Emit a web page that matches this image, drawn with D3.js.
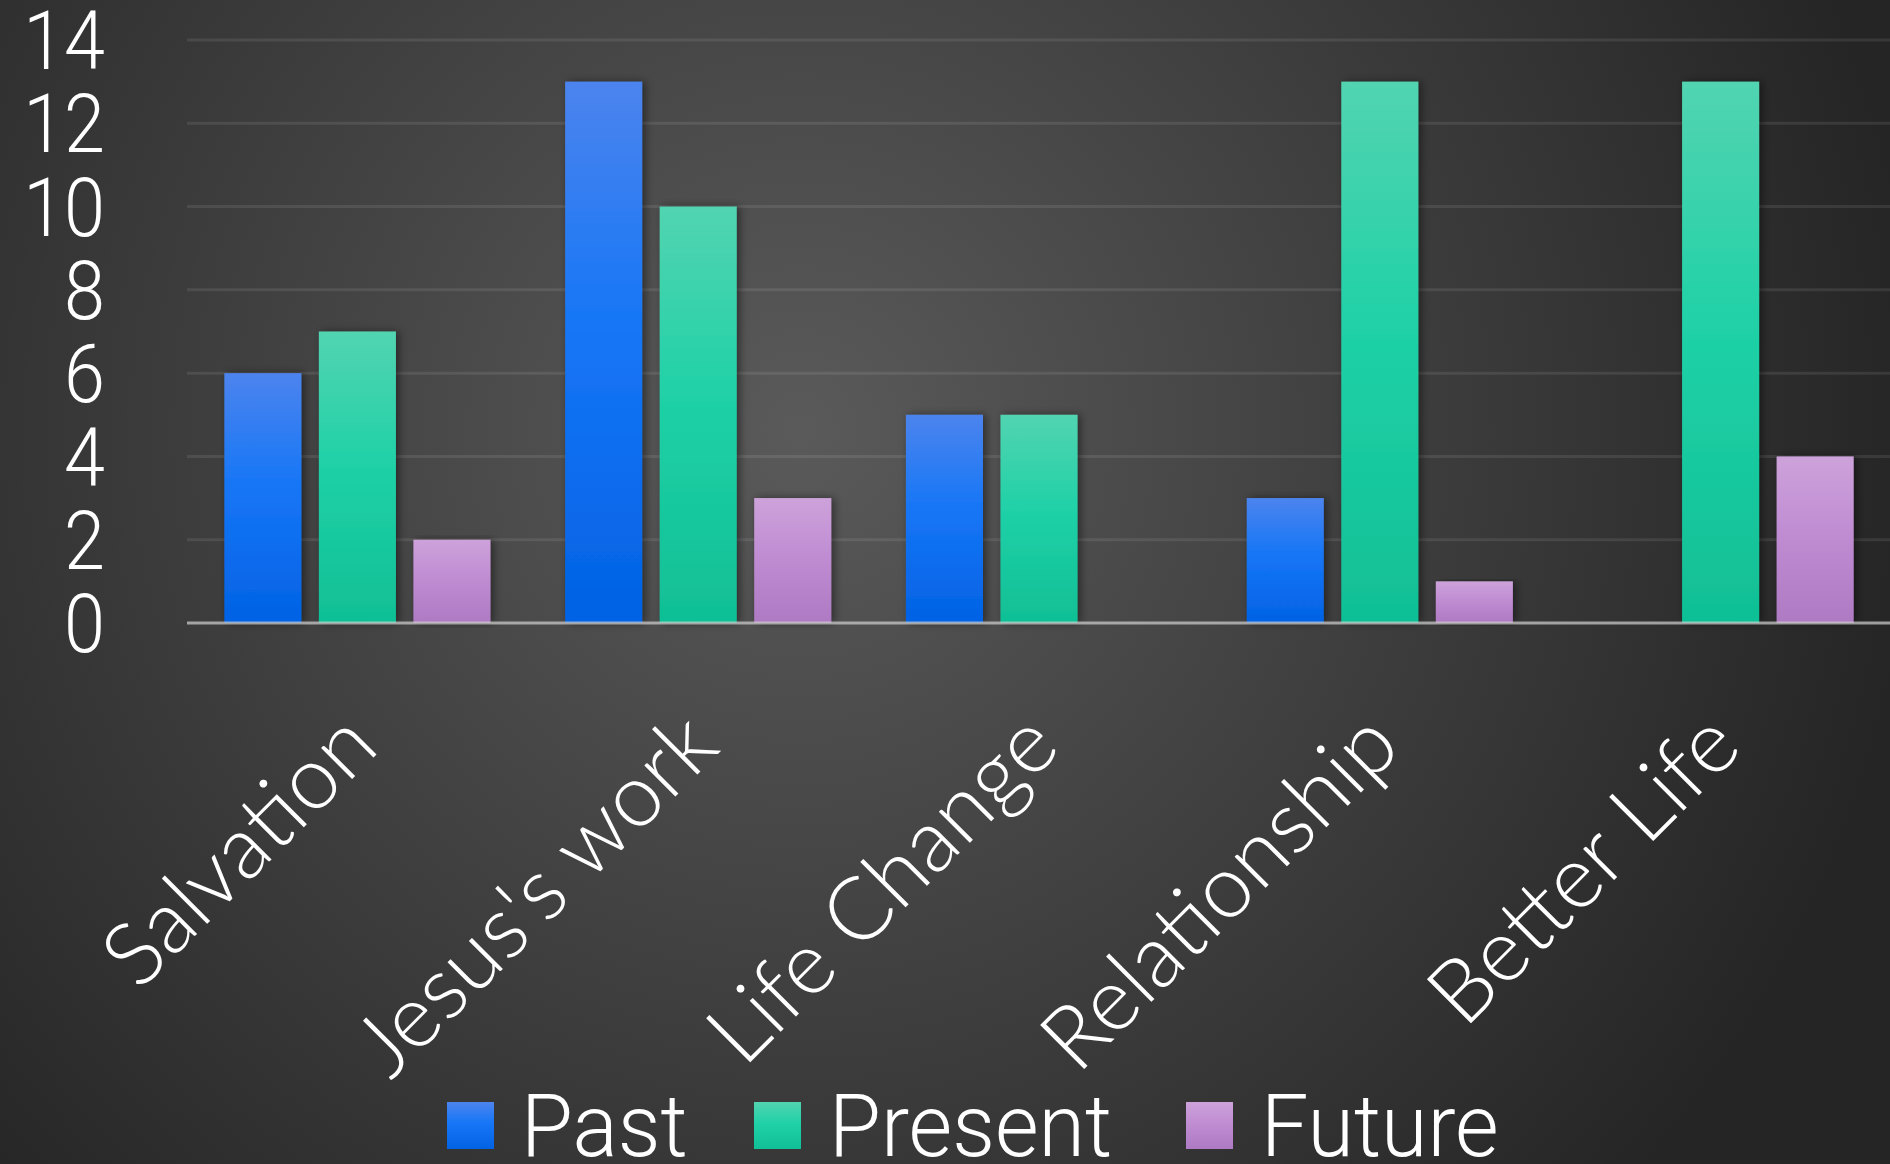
<!DOCTYPE html>
<html>
<head>
<meta charset="utf-8">
<script src="https://cdn.jsdelivr.net/npm/d3@7"></script>
<style>
  html, body { margin: 0; padding: 0; background: #2a2a2a; }
  svg { display: block; }
</style>
</head>
<body>
<svg id="chart" width="1890" height="1164"></svg>
<script>
// Survey themes, counted by time frame
const categories = ["Salvation", "Jesus's work", "Life Change", "Relationship", "Better Life"];
const seriesNames = ["Past", "Present", "Future"];
const pastValues    = [6, 13, 5, 3, 0];
const presentValues = [7, 10, 5, 13, 13];
const futureValues  = [2, 3, 0, 1, 4];
const yTicks = [0, 2, 4, 6, 8, 10, 12, 14];

const seriesValues = { Past: pastValues, Present: presentValues, Future: futureValues };
const seriesColors = {
  Past:    ["#4c84ee", "#1676f6", "#0262e4"],
  Present: ["#52d4b1", "#20d1a7", "#10bf95"],
  Future:  ["#cda2da", "#c08dd3", "#ae7ac3"]
};

const W = 1890, H = 1164;
const plot = { left: 187, right: 1891, top: 40, bottom: 623 };

const svg = d3.select("#chart");
const defs = svg.append("defs");

// background: soft spotlight in the upper middle
const bg = defs.append("radialGradient")
  .attr("id", "bg").attr("gradientUnits", "userSpaceOnUse")
  .attr("cx", 800).attr("cy", 430).attr("r", 1120);
bg.append("stop").attr("offset", 0).attr("stop-color", "#5a5a5a");
bg.append("stop").attr("offset", 1).attr("stop-color", "#252525");
svg.append("rect").attr("width", W).attr("height", H).attr("fill", "url(#bg)");

// bar fills
seriesNames.forEach(s => {
  const g = defs.append("linearGradient").attr("id", "grad-" + s)
    .attr("x1", 0).attr("y1", 0).attr("x2", 0).attr("y2", 1);
  g.append("stop").attr("offset", 0).attr("stop-color", seriesColors[s][0]);
  g.append("stop").attr("offset", 0.45).attr("stop-color", seriesColors[s][1]);
  g.append("stop").attr("offset", 1).attr("stop-color", seriesColors[s][2]);
});

const shadow = defs.append("filter").attr("id", "shadow")
  .attr("x", "-20%").attr("y", "-5%").attr("width", "140%").attr("height", "110%");
shadow.append("feDropShadow").attr("dx", 3).attr("dy", 0).attr("stdDeviation", 4)
  .attr("flood-color", "#000").attr("flood-opacity", 0.45);

// scales
const x0 = d3.scaleBand().domain(categories).range([plot.left, plot.right]).padding(0);
const x1 = d3.scaleBand().domain(seriesNames).range([0, x0.bandwidth()])
  .paddingInner(0.185).paddingOuter(0.395);
const y = d3.scaleLinear().domain([0, 14]).range([plot.bottom, plot.top]);

// gridlines
svg.append("g").selectAll("line").data(yTicks.filter(t => t > 0)).join("line")
  .attr("x1", plot.left).attr("x2", W)
  .attr("y1", d => y(d)).attr("y2", d => y(d))
  .attr("stroke", "rgba(255,255,255,0.09)").attr("stroke-width", 3);

// y axis labels (narrowed horizontally)
const yAxis = d3.axisLeft(y).tickValues(yTicks).tickSize(0).tickPadding(0);
const yg = svg.append("g").attr("transform", `translate(105,0)`).call(yAxis);
yg.select(".domain").remove();
yg.selectAll("text")
  .attr("fill", "#ffffff")
  .attr("font-family", "Roboto, 'Liberation Sans Narrow', sans-serif")
  .attr("font-weight", 300)
  .attr("font-size", 82)
  .attr("dy", "0.35em")
  .attr("text-anchor", "end")
  .attr("x", 0)
  .attr("transform", "scale(0.9,1)");

// bars
const groups = svg.append("g").selectAll("g").data(categories).join("g")
  .attr("transform", d => `translate(${x0(d)},0)`);
groups.selectAll("rect")
  .data((c, i) => seriesNames.map(s => ({ s, v: seriesValues[s][i] })).filter(d => d.v > 0))
  .join("rect")
  .attr("x", d => x1(d.s))
  .attr("width", x1.bandwidth())
  .attr("y", d => y(d.v))
  .attr("height", d => y(0) - y(d.v))
  .attr("fill", d => `url(#grad-${d.s})`)
  .attr("filter", "url(#shadow)");

// category axis line
svg.append("line")
  .attr("x1", plot.left).attr("x2", W)
  .attr("y1", y(0)).attr("y2", y(0))
  .attr("stroke", "rgba(205,205,205,0.72)").attr("stroke-width", 3);

// category labels, rotated
svg.append("g").selectAll("text").data(categories).join("text")
  .attr("transform", d => `translate(${x0(d) + x0.bandwidth() / 2 + 2},728) rotate(-45)`)
  .attr("text-anchor", "end")
  .attr("dy", "0.35em")
  .attr("fill", "#ffffff")
  .attr("font-family", "Lato, 'Open Sans', sans-serif")
  .attr("font-weight", 300)
  .attr("font-size", 88)
  .text(d => d);

// legend
const legendItems = [
  { s: "Past", box: 447, text: 521 },
  { s: "Present", box: 754, text: 829 },
  { s: "Future", box: 1186, text: 1261 }
];
const lg = svg.append("g");
lg.selectAll("rect").data(legendItems).join("rect")
  .attr("x", d => d.box).attr("y", 1102).attr("width", 47).attr("height", 47)
  .attr("fill", d => `url(#grad-${d.s})`);
lg.selectAll("text").data(legendItems).join("text")
  .attr("transform", d => `translate(${d.text},1156) scale(0.97,1)`)
  .attr("fill", "#ffffff")
  .attr("font-family", "Roboto, 'Liberation Sans Narrow', sans-serif")
  .attr("font-weight", 300)
  .attr("font-size", 87)
  .text(d => d.s);
</script>
</body>
</html>
